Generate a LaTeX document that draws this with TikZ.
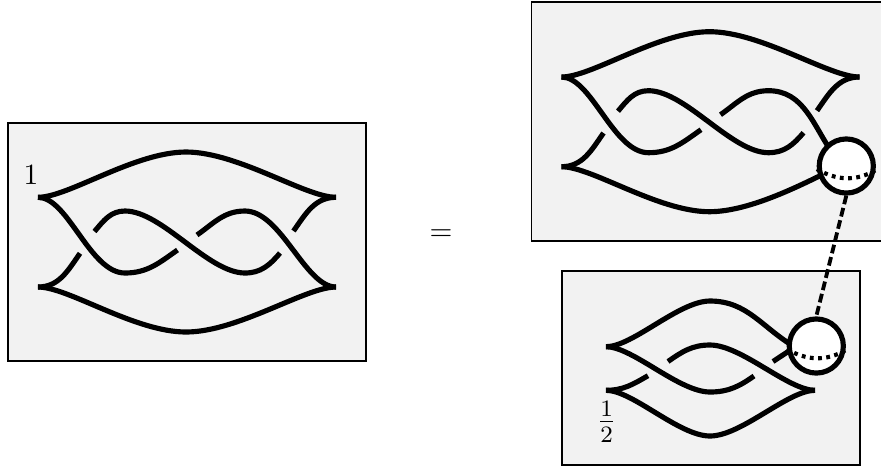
\documentclass[tikz,border=0pt]{standalone}
\usepackage{amsmath}
\usepackage{tikz}
\begin{document}
\begin{tikzpicture}[
    x=0.34pt, y=-0.34pt,
    panel/.style={draw=black, fill=black!5},
    strand/.style={line width=1.75pt, line cap=butt},
    rise/.style={out looseness=.5, in looseness=.85},
    fall/.style={out looseness=.85, in looseness=.5},
    dive/.style={out looseness=.67, in looseness=.78},
    climb/.style={out looseness=.78, in looseness=.67},
    hump/.style={out looseness=.6, in looseness=.7},
    dip/.style={out looseness=.7, in looseness=.6},
    ball/.style={circle, draw=black, line width=1.75pt, fill=white, minimum size=18.4pt, inner sep=0pt},
    equator/.style={line width=1.4pt, dash pattern=on 1.3pt off 1.5pt},
    link/.style={line width=1.3pt, dash pattern=on 3pt off 1.3pt}
]
\useasboundingbox (0,0) rectangle (881,466);
\draw[panel] (8,123) rectangle (366,361);
\draw[panel] (531.5,2) rectangle (890,241);
\draw[panel] (562,271) rectangle (860,465);

% left knot
\draw[strand] (38,197.3) to[out=0,in=180,rise] (186,152) to[out=0,in=180,fall] (336,197.3);
\draw[strand] (38,287) to[out=0,in=180,rise] (186,332) to[out=0,in=180,fall] (336,287);
\draw[strand] (38,197.3) to[out=0,in=180,dive] (125,273) to[out=0,in=215] (177.5,250);
\draw[strand] (197,235) to[out=35,in=180] (245,211) to[out=0,in=180,climb] (336,287);
\draw[strand] (94.5,231.5) to[out=50,in=180] (125,211) to[out=0,in=180,looseness=.7] (245,273) to[out=0,in=230] (280,253);
\draw[strand] (293.5,231) to[out=55,in=180] (336,197.3);
\draw[strand] (38,287) to[out=0,in=235] (80,253.3);
\node (one) at (31,175) {$1$};

\node (eq) at (441,235) {$=$};

% top right knot
\begin{scope}[shift={(523.5,-120.3)}]
\draw[strand] (38,197.3) to[out=0,in=180,rise] (186,152) to[out=0,in=180,fall] (336,197.3);
\draw[strand] (38,287) to[out=0,in=180,rise] (186,332) to[out=0,in=205,fall] (305,292);
\draw[strand] (38,197.3) to[out=0,in=180,dive] (125,273) to[out=0,in=215] (177.5,250);
\draw[strand] (197,235) to[out=35,in=180] (245,211) to[out=0,in=125] (310,275);
\draw[strand] (94.5,231.5) to[out=50,in=180] (125,211) to[out=0,in=180,looseness=.7] (245,273) to[out=0,in=230] (280,253);
\draw[strand] (293.5,231) to[out=55,in=180] (336,197.3);
\draw[strand] (38,287) to[out=0,in=235] (80,253.3);
\end{scope}
\node[ball] (ballup) at (846.3,166) {};
\draw[equator] (ballup.-174) to[out=-30,in=210] (ballup.-8);

% bottom right knot
\draw[strand] (606,346.7) to[out=0,in=180,hump] (710,301) to[out=0,in=150] (795,347);
\draw[strand] (606,346.7) to[out=0,in=180,hump] (710,392) to[out=0,in=215] (754,376);
\draw[strand] (668,361.5) to[out=35,in=180] (710,345) to[out=0,in=180,dip] (815,390.3);
\draw[strand] (606,390.3) to[out=0,in=210] (648,375.7);
\draw[strand] (606,390.3) to[out=0,in=180,hump] (710,436) to[out=0,in=180,dip] (815,390.3);
\draw[strand] (773,361.5) -- (795,347);
\node[ball] (balldown) at (816.3,346) {};
\draw[equator] (balldown.-174) to[out=-30,in=210] (balldown.-8);
\node[font=\large] (half) at (606.7,422) {$\frac{1}{2}$};

\draw[link] (ballup.south) -- (balldown.north);
\end{tikzpicture}
\end{document}
